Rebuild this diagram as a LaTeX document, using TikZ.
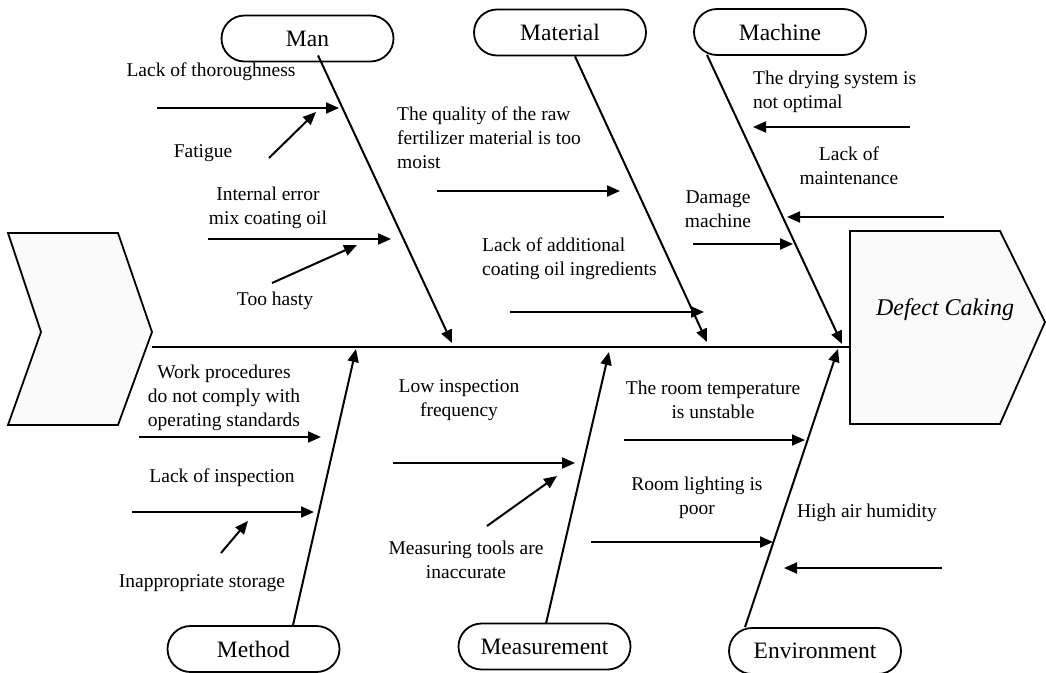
\documentclass[tikz,border=0pt]{standalone}
\usepackage{fontspec}
\setmainfont{Liberation Serif}
\usetikzlibrary{arrows.meta,calc}

\tikzset{
  bone/.style={line width=2pt},
  causearrow/.style={line width=2pt,-{Triangle[length=13pt,width=11pt]}},
  category/.style={draw,line width=1.8pt,rounded corners=23pt,minimum width=172pt,
    minimum height=46pt,inner sep=0pt,font=\fontsize{23.5}{28}\selectfont},
  cause/.style={inner sep=0pt,font=\fontsize{19.5}{24}\selectfont,align=center},
  causeleft/.style={cause,align=left,anchor=west},
  shapebox/.style={draw,line width=1.8pt,fill=black!2,line join=miter}
}

\begin{document}
\begin{tikzpicture}[x=1pt,y=-1pt]
\useasboundingbox (0,0) rectangle (1046,672);
\clip (0,0) rectangle (1046,672);

% tail and head of the fish
\draw[shapebox] (8,233) -- (118,233) -- (152,332) -- (118,425) -- (8,425) -- (41,332) -- cycle;
\draw[shapebox] (850,231) -- (1000,231) -- (1045,322) -- (1000,424) -- (850,424) -- cycle;
\node[font=\fontsize{24}{28}\selectfont\itshape] (effect) at (945,310) {Defect Caking};

% spine
\coordinate (tail) at (152,347);
\coordinate (head) at (850,347);
\draw[bone] (tail) -- (head);

% category boxes
\node[category] (man) at (307.5,38.5) {Man};
\node[category] (material) at (560,32.5) {Material};
\node[category] (machine) at (780,32) {Machine};
\node[category] (method) at (253.5,649) {Method};
\node[category] (measurement) at (544.5,646.5) {Measurement};
\node[category] (environment) at (815,651) {Environment};

% points where the bones meet the spine
\coordinate (manT) at (452,343);
\coordinate (materialT) at (707,342);
\coordinate (machineT) at (842,344);
\coordinate (methodT) at (356,349);
\coordinate (measurementT) at (609,352);
\coordinate (environmentT) at (838,349);

% main bones
\draw[causearrow] ($(man.south)+(10.5,-7)$) -- (manT);
\draw[causearrow] ($(material.south)+(15,0)$) -- (materialT);
\draw[causearrow] ($(machine.south)+(-73,-1)$) -- (machineT);
\draw[causearrow] ($(method.north)+(39.5,0)$) -- (methodT);
\draw[causearrow] ($(measurement.north)+(1.5,1)$) -- (measurementT);
\draw[causearrow] ($(environment.north)+(-70,0)$) -- (environmentT);

% ---- Man ----
\node[cause] (c1) at (211,72) {Lack of thoroughness};
\coordinate (c1s) at (157,108); \coordinate (c1e) at (339,108);
\draw[causearrow] (c1s) -- (c1e);
\node[cause] (c2) at (203,153) {Fatigue};
\coordinate (c2s) at (269,158); \coordinate (c2e) at (316,112);
\draw[causearrow] (c2s) -- (c2e);
\node[cause] (c3) at (268,208) {Internal error\\mix coating oil};
\coordinate (c3s) at (208,239); \coordinate (c3e) at (391,239);
\draw[causearrow] (c3s) -- (c3e);
\node[cause] (c4) at (275,301) {Too hasty};
\coordinate (c4s) at (272,283); \coordinate (c4e) at (357,245);
\draw[causearrow] (c4s) -- (c4e);

% ---- Material ----
\node[causeleft] (c5) at (397,138) {The quality of the raw\\fertilizer material is too\\moist};
\coordinate (c5s) at (437,191); \coordinate (c5e) at (620,191);
\draw[causearrow] (c5s) -- (c5e);
\node[causeleft] (c6) at (482,259) {Lack of additional\\coating oil ingredients};
\coordinate (c6s) at (510,312); \coordinate (c6e) at (704,312);
\draw[causearrow] (c6s) -- (c6e);

% ---- Machine ----
\node[causeleft] (c7) at (753,92) {The drying system is\\not optimal};
\coordinate (c7s) at (910,127); \coordinate (c7e) at (753,127);
\draw[causearrow] (c7s) -- (c7e);
\node[cause] (c8) at (849,166) {Lack of\\maintenance};
\coordinate (c8s) at (944,217); \coordinate (c8e) at (787,217);
\draw[causearrow] (c8s) -- (c8e);
\node[cause] (c9) at (718,209) {Damage\\machine};
\coordinate (c9s) at (693,244); \coordinate (c9e) at (793,244);
\draw[causearrow] (c9s) -- (c9e);

% ---- Method ----
\node[cause] (c10) at (224,398) {Work procedures\\do not comply with\\operating standards};
\coordinate (c10s) at (139,437); \coordinate (c10e) at (321,437);
\draw[causearrow] (c10s) -- (c10e);
\node[cause] (c11) at (222,478) {Lack of inspection};
\coordinate (c11s) at (132,512); \coordinate (c11e) at (314,512);
\draw[causearrow] (c11s) -- (c11e);
\node[cause] (c12) at (202,583) {Inappropriate storage};
\coordinate (c12s) at (221,553); \coordinate (c12e) at (248,521);
\draw[causearrow] (c12s) -- (c12e);

% ---- Measurement ----
\node[cause] (c13) at (459,400) {Low inspection\\frequency};
\coordinate (c13s) at (393,463); \coordinate (c13e) at (575,463);
\draw[causearrow] (c13s) -- (c13e);
\node[cause] (c14) at (466,560) {Measuring tools are\\inaccurate};
\coordinate (c14s) at (487,526); \coordinate (c14e) at (557,476);
\draw[causearrow] (c14s) -- (c14e);

% ---- Environment ----
\node[cause] (c15) at (713,400) {The room temperature\\is unstable};
\coordinate (c15s) at (624,440); \coordinate (c15e) at (805,440);
\draw[causearrow] (c15s) -- (c15e);
\node[cause] (c16) at (697,498) {Room lighting is\\poor};
\coordinate (c16s) at (591,542); \coordinate (c16e) at (773,542);
\draw[causearrow] (c16s) -- (c16e);
\node[cause] (c17) at (867,513) {High air humidity};
\coordinate (c17s) at (942,568); \coordinate (c17e) at (784,568);
\draw[causearrow] (c17s) -- (c17e);
\end{tikzpicture}
\end{document}
